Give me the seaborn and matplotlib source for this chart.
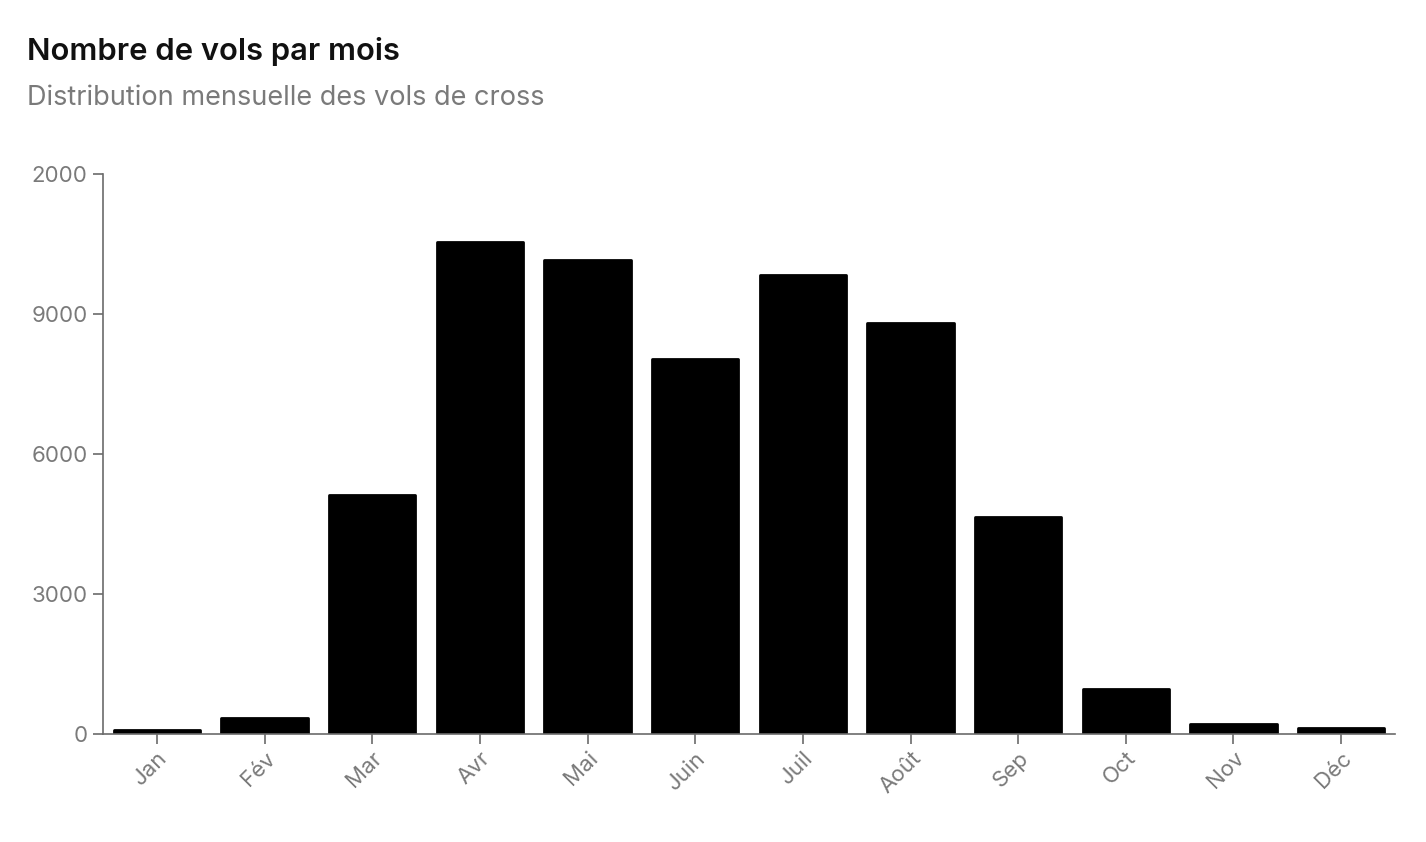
import matplotlib
matplotlib.use("Agg")
import matplotlib.pyplot as plt
import seaborn as sns
import pandas as pd

months = ["Jan", "Fév", "Mar", "Avr", "Mai", "Juin", "Juil", "Août", "Sep", "Oct", "Nov", "Déc"]
flights = [85, 350, 5120, 10540, 10160, 8040, 9840, 8810, 4650, 965, 215, 130]
y_ticks = [0, 3000, 6000, 9000, 12000]
y_tick_labels = ["0", "3000", "6000", "9000", "2000"]

title = "Nombre de vols par mois"
subtitle = "Distribution mensuelle des vols de cross"

sns.set_theme(style="white")
plt.rcParams["font.family"] = ["Inter", "DejaVu Sans"]

df = pd.DataFrame({"month": months, "flights": flights})

fig = plt.figure(figsize=(14.26, 8.42), dpi=100)
ax = fig.add_axes([103 / 1426, 1 - 734 / 842, (1395 - 103) / 1426, (734 - 174) / 842])

sns.barplot(data=df, x="month", y="flights", color="black", width=0.8, ax=ax,
            saturation=1, edgecolor="black", linewidth=2)
for p in ax.patches:
    p.set_joinstyle("round")

ax.set_ylim(0, 12000)
ax.set_xlim(-0.5, 11.5)
ax.set_yticks(y_ticks)
ax.set_yticklabels(y_tick_labels)
ax.set_xlabel("")
ax.set_ylabel("")

gray = "#6b6b6b"
for s in ["top", "right"]:
    ax.spines[s].set_visible(False)
for s in ["left", "bottom"]:
    ax.spines[s].set_color(gray)
    ax.spines[s].set_linewidth(1.2)

ax.tick_params(axis="both", colors=gray, labelcolor="#7a7a7a", labelsize=16,
               length=7, width=1.2, direction="out", bottom=True, left=True)
ax.tick_params(axis="y", pad=4)
ax.tick_params(axis="x", pad=3)
for lbl in ax.get_xticklabels():
    lbl.set_rotation(45)
    lbl.set_ha("right")
    lbl.set_rotation_mode("anchor")

fig.text(27 / 1426, 1 - 51 / 842, title, fontsize=22.3, fontweight="semibold", color="#111111",
         va="center", ha="left")
fig.text(27 / 1426, 1 - 98 / 842, subtitle, fontsize=19.5, color="#7a7a7a",
         va="center", ha="left")

fig.savefig("out.png", dpi=100, facecolor="white")
